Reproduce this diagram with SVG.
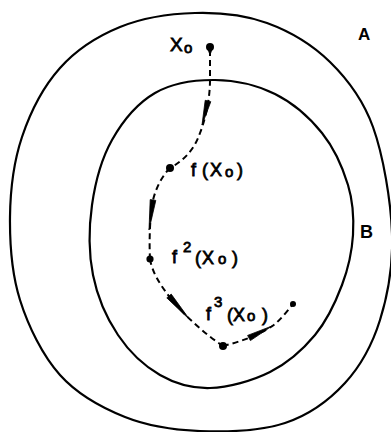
<svg xmlns="http://www.w3.org/2000/svg" width="391" height="432" viewBox="0 0 391 432">
<style>
.region{fill:none;stroke:#000;stroke-width:2.2;stroke-linejoin:round}
.orbit{fill:none;stroke:#000;stroke-width:2;stroke-dasharray:6 4;stroke-linecap:butt}
.wedge{fill:#000;stroke:#000;stroke-width:0.8;stroke-linejoin:round}
.dot{fill:#000}
.lbl{font-family:"Liberation Sans",Arial,sans-serif;font-size:18px;fill:#000;stroke:#000;stroke-width:0.8}
.sub{font-size:15px}
.sup{font-size:15px}
.big{font-family:"Liberation Sans",Arial,sans-serif;font-size:17px;font-weight:bold;fill:#000}
</style>
<rect width="391" height="432" fill="#fff"/>
<g id="regionA">
<path class="region" d="M195,13 C219.5,12.3 244.5,14.8 267,23 C289.5,31.2 312.3,44.7 330,62 C347.7,79.3 362.7,98.5 373,127 C383.3,155.5 390.8,200.8 392,233 C393.2,265.2 387.8,295 380,320 C372.2,345 360.8,365.8 345,383 C329.2,400.2 309.2,415 285,423 C260.8,431 226.7,432 200,431 C173.3,430 148.3,426.3 125,417 C101.7,407.7 77.5,394.5 60,375 C42.5,355.5 28.3,326.3 20,300 C11.7,273.7 9.7,244.2 10,217 C10.3,189.8 13.7,161.8 22,137 C30.3,112.2 43.7,86.3 60,68 C76.3,49.7 97.5,36.2 120,27 C142.5,17.8 170.5,13.7 195,13 Z"/>
<text class="big" x="358" y="40">A</text>
</g>
<g id="regionB">
<path class="region" d="M215,80 C235,80.2 257.2,85.2 275,94 C292.8,102.8 309.8,117.8 322,133 C334.2,148.2 342.8,168 348,185 C353.2,202 354,218.3 353,235 C352,251.7 348.3,268.3 342,285 C335.7,301.7 327,320.5 315,335 C303,349.5 287.5,363.2 270,372 C252.5,380.8 228.3,387.5 210,388 C191.7,388.5 175.3,383.8 160,375 C144.7,366.2 129.2,351.7 118,335 C106.8,318.3 97.3,296.7 93,275 C88.7,253.3 88.8,227.5 92,205 C95.2,182.5 101.5,158.7 112,140 C122.5,121.3 137.8,103 155,93 C172.2,83 195,79.8 215,80 Z"/>
<text class="big" x="360" y="238" style="font-size:18px">B</text>
</g>
<g id="connectors">
<path class="orbit" d="M210,50 L210,80 C210,95 207,115 200,133 C195,148 185,160 170,168"/>
<path class="orbit" d="M170,168 C162,176 156,188 153,200 C150,215 149,240 150,259"/>
<path class="orbit" d="M150,259 C152,272 160,285 172,300 C185,316 205,334 223,346"/>
<path class="orbit" d="M223,346 C240,342 262,334 275,324 C282,318 288,310 293,304"/>
<polygon class="wedge" points="210.8,101.7 205.2,100.3 202,125"/>
<polygon class="wedge" points="155.8,200.4 150.2,199.6 149,230"/>
<polygon class="wedge" points="171.2,294.1 166.8,297.9 190,320"/>
<polygon class="wedge" points="250.4,340.6 247.6,335.4 272,326"/>
</g>
<g id="x0">
<circle class="dot" cx="210" cy="47" r="4"/>
<path d="M207,48 L210,56 L213,48 Z" fill="#000"/>
<text class="lbl" x="170" y="51" style="font-size:19px">X<tspan class="sub" x="184" y="53">o</tspan></text>
</g>
<g id="fx0">
<circle class="dot" cx="170" cy="168" r="4"/>
<text class="lbl" x="191" y="176">f<tspan x="202">(</tspan><tspan x="210">X</tspan><tspan class="sub" x="225" y="177">o</tspan><tspan x="237" y="176">)</tspan></text>
</g>
<g id="f2x0">
<circle class="dot" cx="150" cy="259" r="3.6"/>
<text class="lbl" x="172" y="263">f<tspan class="sup" x="183" y="252">2</tspan><tspan x="195" y="264">(</tspan><tspan x="202">X</tspan><tspan class="sub" x="218" y="264">o</tspan><tspan x="232" y="264">)</tspan></text>
</g>
<g id="f3x0">
<circle class="dot" cx="223" cy="346" r="4"/>
<text class="lbl" x="206" y="320">f<tspan class="sup" x="214" y="307">3</tspan><tspan x="227" y="321">(</tspan><tspan x="233">X</tspan><tspan class="sub" x="247" y="321">o</tspan><tspan x="262" y="321">)</tspan></text>
</g>
<g id="f4x0">
<circle class="dot" cx="293" cy="304" r="3"/>
</g>
</svg>
